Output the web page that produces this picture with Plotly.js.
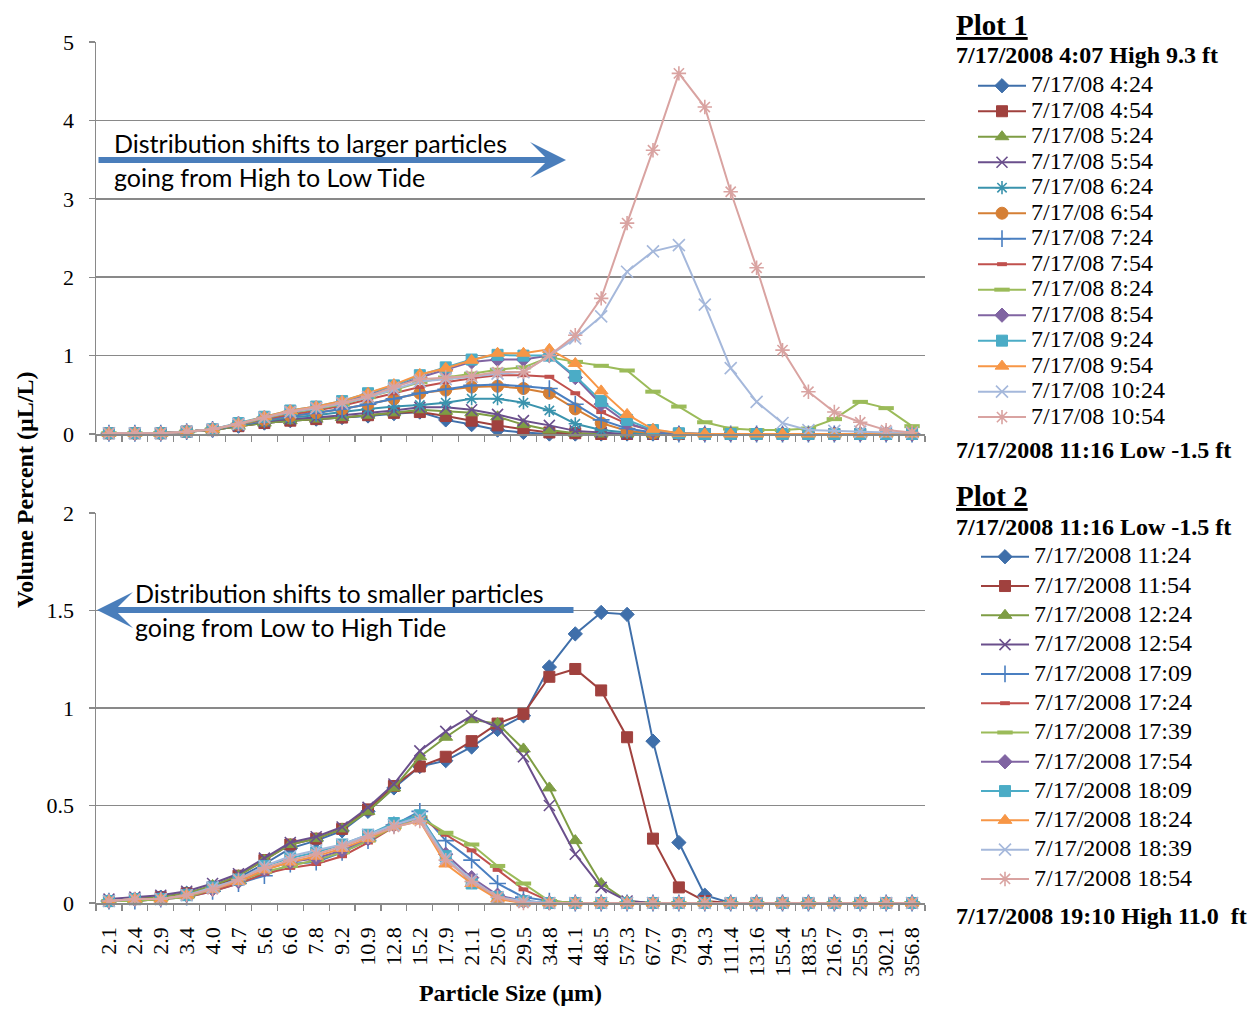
<!DOCTYPE html>
<html><head><meta charset="utf-8">
<script src="https://cdn.plot.ly/plotly-3.0.1.min.js"></script>
<style>
html,body{margin:0;padding:0;background:#fff;}
#chart{width:1259px;height:1009px;}
.legendtext, .legend2text{font-size:24px !important;}
</style></head>
<body><div id="chart"></div>
<script>
// ---------- categories ----------
const sizes = ["2.1","2.4","2.9","3.4","4.0","4.7","5.6","6.6","7.8","9.2","10.9","12.8","15.2","17.9","21.1","25.0","29.5","34.8","41.1","48.5","57.3","67.7","79.9","94.3","111.4","131.6","155.4","183.5","216.7","255.9","302.1","356.8"];

// ---------- Plot 1 (High 4:07 -> Low 11:16) ----------
const p1Names = ["7/17/08 4:24","7/17/08 4:54","7/17/08 5:24","7/17/08 5:54","7/17/08 6:24","7/17/08 6:54","7/17/08 7:24","7/17/08 7:54","7/17/08 8:24","7/17/08 8:54","7/17/08 9:24","7/17/08 9:54","7/17/08 10:24","7/17/08 10:54"];
const p1_0424 = [0.01,0.01,0.01,0.03,0.05,0.10,0.14,0.17,0.19,0.21,0.23,0.26,0.28,0.18,0.12,0.05,0.02,0,0,0,0,0,0,0,0,0,0,0,0,0,0,0];
const p1_0454 = [0.01,0.01,0.01,0.03,0.05,0.10,0.14,0.17,0.19,0.21,0.24,0.27,0.28,0.23,0.17,0.11,0.06,0.02,0.01,0,0,0,0,0,0,0,0,0,0,0,0,0];
const p1_0524 = [0.01,0.01,0.01,0.03,0.05,0.10,0.14,0.17,0.19,0.21,0.24,0.27,0.31,0.29,0.27,0.22,0.12,0.05,0.01,0,0,0,0,0,0,0,0,0,0,0,0,0];
const p1_0554 = [0.01,0.01,0.01,0.03,0.06,0.11,0.16,0.19,0.21,0.24,0.27,0.30,0.34,0.34,0.31,0.25,0.17,0.11,0.04,0.02,0,0,0,0,0,0,0,0,0,0,0,0];
const p1_0624 = [0.01,0.01,0.01,0.03,0.06,0.11,0.17,0.21,0.24,0.28,0.32,0.35,0.37,0.40,0.45,0.45,0.40,0.30,0.13,0.05,0.02,0,0,0,0,0,0,0,0,0,0,0];
const p1_0654 = [0.01,0.01,0.01,0.03,0.06,0.12,0.18,0.23,0.27,0.32,0.38,0.45,0.52,0.56,0.60,0.61,0.58,0.52,0.32,0.14,0.04,0.01,0,0,0,0,0,0,0,0,0,0];
const p1_0724 = [0.01,0.01,0.01,0.03,0.06,0.12,0.18,0.23,0.27,0.32,0.38,0.45,0.52,0.57,0.62,0.63,0.61,0.58,0.38,0.18,0.07,0.02,0,0,0,0,0,0,0,0,0,0];
const p1_0754 = [0.01,0.01,0.01,0.03,0.06,0.12,0.19,0.25,0.30,0.36,0.44,0.52,0.60,0.66,0.71,0.75,0.75,0.73,0.52,0.28,0.13,0.04,0.01,0,0,0,0,0,0,0,0,0];
const p1_0824 = [0.01,0.01,0.01,0.03,0.06,0.12,0.20,0.27,0.32,0.38,0.47,0.56,0.66,0.72,0.77,0.82,0.85,0.98,0.92,0.87,0.81,0.54,0.35,0.15,0.07,0.05,0.05,0.07,0.19,0.41,0.33,0.10];
const p1_0854 = [0.01,0.01,0.01,0.03,0.06,0.13,0.21,0.28,0.33,0.40,0.50,0.60,0.72,0.82,0.92,0.95,0.95,1.00,0.72,0.38,0.14,0.04,0.01,0,0,0,0,0,0,0,0,0];
const p1_0924 = [0.01,0.01,0.01,0.03,0.06,0.14,0.22,0.30,0.35,0.42,0.52,0.62,0.75,0.85,0.95,1.01,1.00,1.00,0.74,0.42,0.18,0.05,0.01,0,0,0,0,0,0,0,0,0];
const p1_0954 = [0.01,0.01,0.01,0.03,0.06,0.13,0.22,0.30,0.35,0.42,0.52,0.63,0.76,0.84,0.94,1.03,1.03,1.08,0.90,0.55,0.25,0.06,0.01,0,0,0,0,0,0,0,0,0];
const p1_1024 = [0.01,0.01,0.01,0.03,0.06,0.13,0.21,0.28,0.33,0.39,0.47,0.57,0.67,0.70,0.73,0.77,0.79,1.00,1.22,1.50,2.07,2.33,2.41,1.65,0.84,0.41,0.14,0.05,0.04,0.03,0.02,0.02];
const p1_1054 = [0.01,0.01,0.01,0.03,0.06,0.13,0.21,0.29,0.34,0.40,0.48,0.60,0.70,0.72,0.74,0.79,0.79,1.00,1.26,1.73,2.69,3.62,4.60,4.17,3.09,2.12,1.07,0.54,0.28,0.15,0.05,0.02];
const p1Values = [p1_0424,p1_0454,p1_0524,p1_0554,p1_0624,p1_0654,p1_0724,p1_0754,p1_0824,p1_0854,p1_0924,p1_0954,p1_1024,p1_1054];

// ---------- Plot 2 (Low 11:16 -> High 19:10) ----------
const p2Names = ["7/17/2008 11:24","7/17/2008 11:54","7/17/2008 12:24","7/17/2008 12:54","7/17/2008 17:09","7/17/2008 17:24","7/17/2008 17:39","7/17/2008 17:54","7/17/2008 18:09","7/17/2008 18:24","7/17/2008 18:39","7/17/2008 18:54"];
const p2_1124 = [0.01,0.02,0.03,0.05,0.08,0.13,0.20,0.28,0.32,0.37,0.47,0.59,0.70,0.73,0.80,0.89,0.96,1.21,1.38,1.49,1.48,0.83,0.31,0.04,0,0,0,0,0,0,0,0];
const p2_1154 = [0.01,0.02,0.03,0.05,0.08,0.14,0.22,0.30,0.33,0.38,0.48,0.60,0.70,0.75,0.83,0.92,0.97,1.16,1.20,1.09,0.85,0.33,0.08,0.01,0,0,0,0,0,0,0,0];
const p2_1224 = [0.01,0.02,0.03,0.05,0.09,0.14,0.22,0.30,0.33,0.38,0.47,0.59,0.75,0.85,0.94,0.92,0.79,0.59,0.32,0.10,0.01,0,0,0,0,0,0,0,0,0,0,0];
const p2_1254 = [0.02,0.03,0.04,0.06,0.10,0.15,0.23,0.31,0.34,0.39,0.49,0.61,0.78,0.88,0.96,0.90,0.75,0.50,0.25,0.08,0.01,0,0,0,0,0,0,0,0,0,0,0];
const p2_1709 = [0.01,0.01,0.02,0.03,0.06,0.10,0.14,0.20,0.21,0.26,0.32,0.40,0.47,0.32,0.22,0.10,0.03,0.01,0,0,0,0,0,0,0,0,0,0,0,0,0,0];
const p2_1724 = [0.01,0.01,0.02,0.03,0.06,0.10,0.15,0.18,0.20,0.24,0.31,0.39,0.44,0.35,0.27,0.17,0.07,0.01,0,0,0,0,0,0,0,0,0,0,0,0,0,0];
const p2_1739 = [0.01,0.01,0.02,0.03,0.07,0.11,0.16,0.19,0.22,0.26,0.32,0.39,0.44,0.36,0.30,0.19,0.10,0.01,0,0,0,0,0,0,0,0,0,0,0,0,0,0];
const p2_1754 = [0.01,0.02,0.02,0.04,0.07,0.11,0.17,0.21,0.23,0.27,0.33,0.40,0.44,0.25,0.13,0.04,0.01,0,0,0,0,0,0,0,0,0,0,0,0,0,0,0];
const p2_1809 = [0.01,0.02,0.02,0.04,0.08,0.12,0.19,0.23,0.26,0.30,0.35,0.41,0.45,0.24,0.10,0.03,0.01,0,0,0,0,0,0,0,0,0,0,0,0,0,0,0];
const p2_1824 = [0.01,0.02,0.02,0.04,0.07,0.11,0.17,0.21,0.24,0.28,0.33,0.39,0.42,0.20,0.10,0.02,0,0,0,0,0,0,0,0,0,0,0,0,0,0,0,0];
const p2_1839 = [0.01,0.02,0.02,0.04,0.08,0.12,0.19,0.24,0.27,0.30,0.35,0.40,0.44,0.23,0.12,0.03,0.01,0,0,0,0,0,0,0,0,0,0,0,0,0,0,0];
const p2_1854 = [0.01,0.02,0.02,0.04,0.07,0.12,0.18,0.22,0.25,0.29,0.34,0.39,0.42,0.22,0.11,0.03,0,0,0,0,0,0,0,0,0,0,0,0,0,0,0,0];
const p2Values = [p2_1124,p2_1154,p2_1224,p2_1254,p2_1709,p2_1724,p2_1739,p2_1754,p2_1809,p2_1824,p2_1839,p2_1854];

// ---------- styles (Excel 2007 like) ----------
const styles = [
  {c:'#3F6FAA', s:'diamond', sz:11},
  {c:'#A0413E', s:'square', sz:11},
  {c:'#7E9D44', s:'triangle-up', sz:12},
  {c:'#6A4F8C', s:'x-thin-open', sz:11, lw:1.6},
  {c:'#3A93AD', s:'asterisk-open', sz:11, lw:1.6},
  {c:'#D57F35', s:'circle', sz:12},
  {c:'#4A7FC1', s:'cross-thin-open', sz:12, lw:1.6},
  {c:'#C0504D', s:'line-ew-open', sz:7, lw:4},
  {c:'#9BBB59', s:'line-ew-open', sz:11, lw:4},
  {c:'#8064A2', s:'diamond', sz:11},
  {c:'#4BACC6', s:'square', sz:11},
  {c:'#F79646', s:'triangle-up', sz:12},
  {c:'#A5B8DB', s:'x-thin-open', sz:12, lw:1.6},
  {c:'#D9A3A1', s:'asterisk-open', sz:12, lw:1.6}
];
const p2StyleIdx = [0,1,2,3,6,7,8,9,10,11,12,13];

function makeTrace(name, vals, st, xa, ya, leg, grp){
  const mk = {symbol: st.s, size: st.sz, color: st.c, line:{color: st.c, width: st.lw || 1}};
  return {
    type:'scatter', mode:'lines+markers', name:name, x:sizes, y:vals,
    xaxis:xa, yaxis:ya, legend:leg, legendgroup:grp,
    line:{color:st.c, width:2}, marker:mk, cliponaxis:false
  };
}

const traces = [];
p1Names.forEach((n,i)=>traces.push(makeTrace(n, p1Values[i], styles[i], 'x', 'y', 'legend', 'a'+i)));
p2Names.forEach((n,i)=>traces.push(makeTrace(n, p2Values[i], styles[p2StyleIdx[i]], 'x2', 'y2', 'legend2', 'b'+i)));

const grid = '#898989';
const serif = 'Liberation Serif';
const baseX = {
  type:'category', categoryorder:'array', categoryarray:sizes, range:[-0.5,31.5],
  tickmode:'linear', tick0:0, dtick:1,
  showgrid:false, zeroline:false, showline:true, linecolor:grid, linewidth:1.5,
  ticks:'outside', tickson:'boundaries', ticklen:6, tickcolor:grid, tickwidth:1.2
};
const baseY = {
  showgrid:true, gridcolor:grid, gridwidth:1.6, zeroline:false, showline:true, linecolor:grid, linewidth:1.5,
  ticks:'outside', ticklen:6, tickcolor:grid, tickwidth:1.2, ticklabelstandoff:10,
  tickfont:{family:serif, size:22, color:'#000'}
};

function px(x){ return (x-96)/829; }
function py(y){ return (903-y)/861; }

const sansFont = {family:'Lato', size:25, color:'#000'};

const layout = {
  width:1259, height:1009,
  margin:{l:96, r:334, t:42, b:106},
  paper_bgcolor:'#fff', plot_bgcolor:'#fff',
  font:{family:serif, color:'#000'},
  showlegend:true,
  xaxis: Object.assign({}, baseX, {domain:[0,1], anchor:'y', showticklabels:false}),
  yaxis: Object.assign({}, baseY, {domain:[0.5447,1], range:[0,5], dtick:1, tick0:0, anchor:'x'}),
  xaxis2: Object.assign({}, baseX, {domain:[0,1], anchor:'y2', showticklabels:true, tickangle:-90,
    ticklabelstandoff:14,
    tickfont:{family:serif, size:22, color:'#000'},
    title:{text:'<b>Particle Size (µm)</b>', font:{family:serif, size:24, color:'#000'}, standoff:8}}),
  yaxis2: Object.assign({}, baseY, {domain:[0,0.453], range:[0,2], dtick:0.5, tick0:0, anchor:'x2'}),
  legend:{x:px(973), y:py(68), xanchor:'left', yanchor:'top', bgcolor:'rgba(0,0,0,0)',
    font:{family:serif, size:17.3, color:'#000'}, itemwidth:48, tracegroupgap:0, traceorder:'grouped'},
  legend2:{x:px(976), y:py(539), xanchor:'left', yanchor:'top', bgcolor:'rgba(0,0,0,0)',
    font:{family:serif, size:17.3, color:'#000'}, itemwidth:48, tracegroupgap:3.8, traceorder:'grouped'},
  annotations:[
    {xref:'paper', yref:'paper', x:px(954), y:py(25), xanchor:'left', yanchor:'middle', showarrow:false,
     text:'<b><u>Plot 1</u></b>', font:{family:serif, size:29, color:'#000'}},
    {xref:'paper', yref:'paper', x:px(954), y:py(55), xanchor:'left', yanchor:'middle', showarrow:false,
     text:'<b>7/17/2008 4:07 High 9.3 ft</b>', font:{family:serif, size:24, color:'#000'}},
    {xref:'paper', yref:'paper', x:px(954), y:py(450), xanchor:'left', yanchor:'middle', showarrow:false,
     text:'<b>7/17/2008 11:16 Low -1.5 ft</b>', font:{family:serif, size:24, color:'#000'}},
    {xref:'paper', yref:'paper', x:px(954), y:py(496), xanchor:'left', yanchor:'middle', showarrow:false,
     text:'<b><u>Plot 2</u></b>', font:{family:serif, size:29, color:'#000'}},
    {xref:'paper', yref:'paper', x:px(954), y:py(527), xanchor:'left', yanchor:'middle', showarrow:false,
     text:'<b>7/17/2008 11:16 Low -1.5 ft</b>', font:{family:serif, size:24, color:'#000'}},
    {xref:'paper', yref:'paper', x:px(954), y:py(916), xanchor:'left', yanchor:'middle', showarrow:false,
     text:'<b>7/17/2008 19:10 High 11.0  ft</b>', font:{family:serif, size:24, color:'#000'}},
    {xref:'paper', yref:'paper', x:px(25), y:py(490), xanchor:'center', yanchor:'middle', showarrow:false,
     textangle:-90, text:'<b>Volume Percent (µL/L)</b>', font:{family:serif, size:24, color:'#000'}},
    // arrows
    {xref:'paper', yref:'paper', x:px(566), y:py(160), ax:-469, ay:0, text:'', showarrow:true,
     arrowhead:3, arrowsize:1, arrowwidth:6, arrowcolor:'#4A7EBB'},
    {xref:'paper', yref:'paper', x:px(97), y:py(610), ax:478, ay:0, text:'', showarrow:true,
     arrowhead:3, arrowsize:1, arrowwidth:6, arrowcolor:'#4A7EBB'},
    // arrow texts
    {xref:'paper', yref:'paper', x:px(112), y:py(143), xanchor:'left', yanchor:'middle', showarrow:false,
     text:'Distribution shifts to larger particles', font:sansFont},
    {xref:'paper', yref:'paper', x:px(112), y:py(177), xanchor:'left', yanchor:'middle', showarrow:false,
     text:'going from High to Low Tide', font:sansFont},
    {xref:'paper', yref:'paper', x:px(133), y:py(593), xanchor:'left', yanchor:'middle', showarrow:false,
     text:'Distribution shifts to smaller particles', font:sansFont},
    {xref:'paper', yref:'paper', x:px(133), y:py(627), xanchor:'left', yanchor:'middle', showarrow:false,
     text:'going from Low to High Tide', font:sansFont}
  ]
};

Plotly.newPlot('chart', traces, layout, {displayModeBar:false, staticPlot:true});
</script>
</body></html>
